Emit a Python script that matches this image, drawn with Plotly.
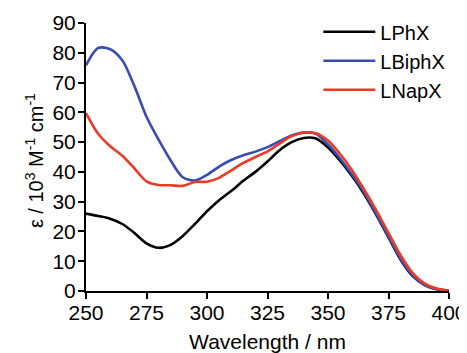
import plotly.graph_objects as go

wavelength = [250, 255, 260, 265, 270, 275, 280, 285, 290, 295, 300, 305, 310, 315,
              320, 325, 330, 335, 340, 345, 350, 355, 360, 365, 370, 375, 380, 385,
              390, 395, 400]

lphx = [26.0, 25.2, 24.3, 22.5, 19.5, 16.0, 14.5, 15.5, 18.5, 22.5, 26.8, 30.5, 33.6, 37.0,
        40.0, 43.5, 47.3, 50.0, 51.4, 51.2, 48.2, 43.8, 38.5, 32.5, 25.5, 18.0, 10.5, 5.0,
        2.0, 0.6, 0.1]

lbiphx = [75.8, 81.6, 81.2, 77.5, 68.8, 58.5, 50.8, 43.8, 38.2, 37.1, 39.0, 41.8, 44.0, 45.6,
          46.8, 48.3, 50.3, 52.2, 53.2, 52.8, 49.2, 44.5, 39.0, 33.0, 25.8, 18.3, 10.8, 5.2,
          2.0, 0.6, 0.1]

lnapx = [59.7, 52.8, 48.6, 45.4, 41.2, 36.8, 35.6, 35.5, 35.3, 36.6, 36.7, 38.0, 40.5, 43.0,
         45.0, 46.9, 49.5, 52.0, 53.2, 53.0, 50.5, 46.0, 40.5, 34.0, 27.0, 19.5, 12.0, 6.0,
         2.5, 0.8, 0.1]

names = ["LPhX", "LBiphX", "LNapX"]
colors = ["#000000", "#3b4cb0", "#ec3b25"]

x_ticks = [250, 275, 300, 325, 350, 375, 400]
y_ticks = [0, 10, 20, 30, 40, 50, 60, 70, 80, 90]

fig = go.Figure()
for name, ys, c in zip(names, [lphx, lbiphx, lnapx], colors):
    fig.add_trace(go.Scatter(x=wavelength, y=ys, mode="lines", name=name,
                             line=dict(color=c, width=2.6, shape="spline", smoothing=0.8)))

font = "Liberation Sans, Arial, sans-serif"
# page body has an 8px default margin, so the figure is 8px smaller and margins reduced
fig.update_layout(
    width=459, height=345,
    margin=dict(l=78, r=18, t=15, b=62, autoexpand=False),
    paper_bgcolor="white", plot_bgcolor="white",
    font=dict(family=font, size=21, color="black"),
    showlegend=True,
    legend=dict(x=0.64, y=1.04, xanchor="left", yanchor="top",
                bgcolor="rgba(0,0,0,0)", font=dict(size=20),
                itemwidth=52, tracegroupgap=0),
    annotations=[dict(text="ε / 10<sup>3</sup> M<sup>-1</sup> cm<sup>-1</sup>",
                      xref="paper", yref="paper", x=-0.143, y=0.485,
                      xanchor="center", yanchor="middle", textangle=-90,
                      showarrow=False, font=dict(size=20))],
)
fig.update_xaxes(range=[250, 400], tickvals=x_ticks, ticktext=[str(v) for v in x_ticks],
                 showline=True, linecolor="black", linewidth=2, ticks="outside",
                 ticklen=6, tickwidth=2, tickcolor="black", showgrid=False, zeroline=False,
                 tickfont=dict(size=21), ticklabelstandoff=-4, automargin=False,
                 ticklabeloverflow="allow",
                 title=dict(text="Wavelength / nm", font=dict(size=21), standoff=14))
fig.update_yaxes(range=[0, 90], tickvals=y_ticks, ticktext=[str(v) for v in y_ticks],
                 showline=True, linecolor="black", linewidth=2, ticks="outside",
                 ticklen=6, tickwidth=2, tickcolor="black", showgrid=False, zeroline=False,
                 tickfont=dict(size=21), ticklabelstandoff=-2, automargin=False,
                 ticklabeloverflow="allow")

fig.write_html("out.html")
